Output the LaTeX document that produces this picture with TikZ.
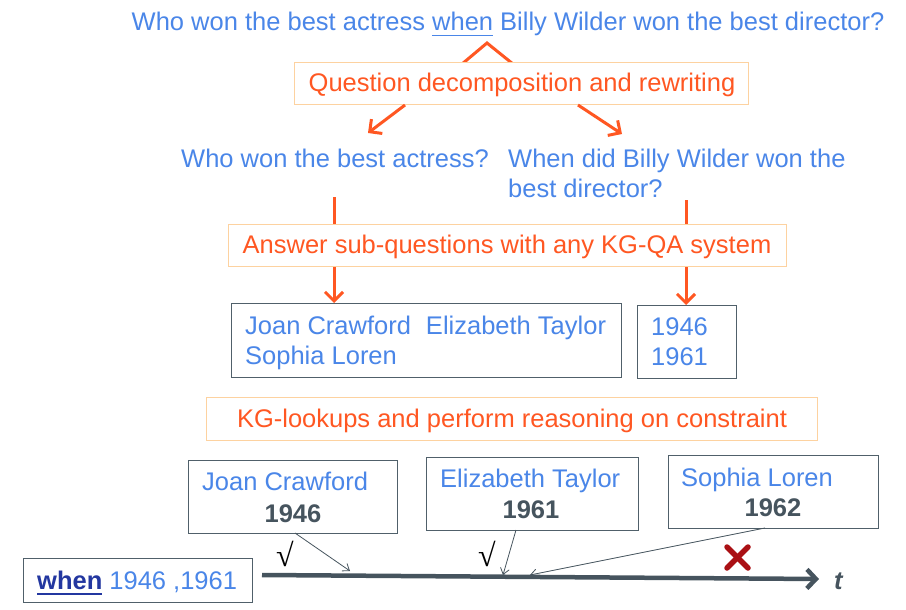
\documentclass[tikz,border=0pt]{standalone}
\usepackage{fontspec}
\setmainfont{Liberation Sans}
\newfontfamily\chkfont{Liberation Serif}
\usetikzlibrary{arrows.meta}
\definecolor{qblue}{RGB}{74,134,232}
\definecolor{orr}{RGB}{255,87,34}
\definecolor{boxor}{RGB}{253,210,160}
\definecolor{boxgr}{RGB}{80,96,106}
\definecolor{tgray}{RGB}{70,84,94}
\definecolor{navy}{RGB}{35,55,160}
\definecolor{xred}{RGB}{170,16,20}
\newcommand\fs{\fontsize{25.5}{30}\selectfont}
\newcommand\myul[2]{\setbox0\hbox{#2}\rlap{\color{#1}\rule[-5.5pt]{\wd0}{1.4pt}}#2}
\tikzset{
  obox/.style={draw=boxor, line width=1.3pt, fill=white, rectangle, inner sep=0pt, anchor=north west},
  gbox/.style={draw=boxgr, line width=1.1pt, fill=white, rectangle, inner sep=0pt, anchor=north west},
  btxt/.style={text=qblue, font=\fs, inner sep=0pt, anchor=base west},
  otxt/.style={text=orr, font=\fs, inner sep=0pt, anchor=base},
  ktxt/.style={text=tgray, font=\fs\bfseries, inner sep=0pt, anchor=base},
  oline/.style={draw=orr, line width=3pt},
  oarr/.style={oline, -{Straight Barb[length=9pt,width=18pt]}},
  thinarr/.style={draw=tgray, line width=0.8pt, -{Straight Barb[length=6pt,width=9pt]}},
  tline/.style={draw=tgray, line width=4.5pt, -{Straight Barb[length=9pt,width=19pt]}},
  chk/.style={text=black, inner sep=0pt, anchor=base, font=\chkfont\fontsize{32}{34}\selectfont},
}
\begin{document}
\begin{tikzpicture}[x=1pt,y=-1pt]
\useasboundingbox (0,0) rectangle (906,610);
% top question
\node[btxt, anchor=base] (q) at (508,31) {Who won the best actress \myul{qblue}{when} Billy Wilder won the best director?};
\coordinate (apex) at (487,43);
\coordinate (legl) at (462,64);
\coordinate (legr) at (513,64);
\draw[oline, line join=miter] (legl) -- (apex) -- (legr);
% box 1
\node[obox, minimum width=454pt, minimum height=42pt] (b1) at (294,62) {};
\node[otxt] (t1) at (522,92) {Question decomposition and rewriting};
\coordinate (a1s) at (405,105);
\coordinate (a2s) at (578,105);
\coordinate (a1e) at (368,133);
\coordinate (a2e) at (622,134);
\draw[oarr] (a1s) -- (a1e);
\draw[oarr] (a2s) -- (a2e);
% sub questions
\node[btxt] (sq1) at (181,167) {Who won the best actress?};
\node[btxt] (sq2a) at (508,167) {When did Billy Wilder won the};
\node[btxt] (sq2b) at (508,197) {best director?};
% box 2
\node[obox, minimum width=558pt, minimum height=42pt] (b2) at (228,224) {};
\node[otxt] (t2) at (507,253) {Answer sub-questions with any KG-QA system};
\coordinate (l1s) at (334,197);
\coordinate (l2s) at (686,200);
\draw[oline] (l1s) -- (l1s |- b2.north);
\draw[oline] (l2s) -- (l2s |- b2.north);
% answers boxes
\node[gbox, minimum width=390pt, minimum height=74pt] (b3) at (231,303) {};
\node[gbox, minimum width=99pt, minimum height=73pt] (b4) at (637,305) {};
\draw[oarr] (l1s |- b2.south) -- (l1s |- b3.north);
\draw[oarr] (l2s |- b2.south) -- (l2s |- b4.north);
\node[btxt] (ans1) at (245,334) {Joan Crawford\hspace{15pt}Elizabeth Taylor};
\node[btxt] (ans2) at (245,364) {Sophia Loren};
\node[btxt] (y1) at (651,335) {1946};
\node[btxt] (y2) at (651,365) {1961};
% box 5
\node[obox, minimum width=611pt, minimum height=43pt] (b5) at (206,397) {};
\node[otxt] (t5) at (512,427) {KG-lookups and perform reasoning on constraint};
% lookup boxes
\node[gbox, minimum width=209pt, minimum height=73pt] (jc) at (188,460) {};
\node[btxt] (jct) at (202,490) {Joan Crawford};
\node[ktxt] (jcy) at (293,522) {1946};
\node[gbox, minimum width=212pt, minimum height=73pt] (et) at (426,457) {};
\node[btxt] (ett) at (440,487) {Elizabeth Taylor};
\node[ktxt] (ety) at (531,518) {1961};
\node[gbox, minimum width=210pt, minimum height=73pt] (sl) at (668,455) {};
\node[btxt] (slt) at (681,486) {Sophia Loren};
\node[ktxt] (sly) at (773,516) {1962};
% when box
\node[gbox, minimum width=229pt, minimum height=44pt] (wb) at (23,558) {};
\node[btxt] (wt) at (37,589) {\textcolor{navy}{\bfseries\myul{navy}{when}} 1946 ,1961};
% timeline
\coordinate (ts) at (262,575);
\coordinate (te) at (819,579);
\draw[tline] (ts) -- (te);
\node[ktxt, font=\fs\bfseries\itshape, anchor=base west] (tt) at (834,589) {t};
% thin arrows
\coordinate (p1) at (350,571);
\coordinate (p2) at (503,575);
\coordinate (p3) at (530,575);
\draw[thinarr] (295,533) -- (p1);
\draw[thinarr] (516,530) -- (p2);
\draw[thinarr] (765,528) -- (p3);
\node[chk] (ck1) at (285,566) {√};
\node[chk] (ck2) at (487,566) {√};
% red cross
\coordinate (xa) at (727,547);
\coordinate (xb) at (748,568);
\coordinate (xc) at (748,547);
\coordinate (xd) at (727,568);
\draw[xred, line width=5.5pt, line cap=round] (xa) -- (xb);
\draw[xred, line width=5.5pt, line cap=round] (xc) -- (xd);
\end{tikzpicture}
\end{document}
